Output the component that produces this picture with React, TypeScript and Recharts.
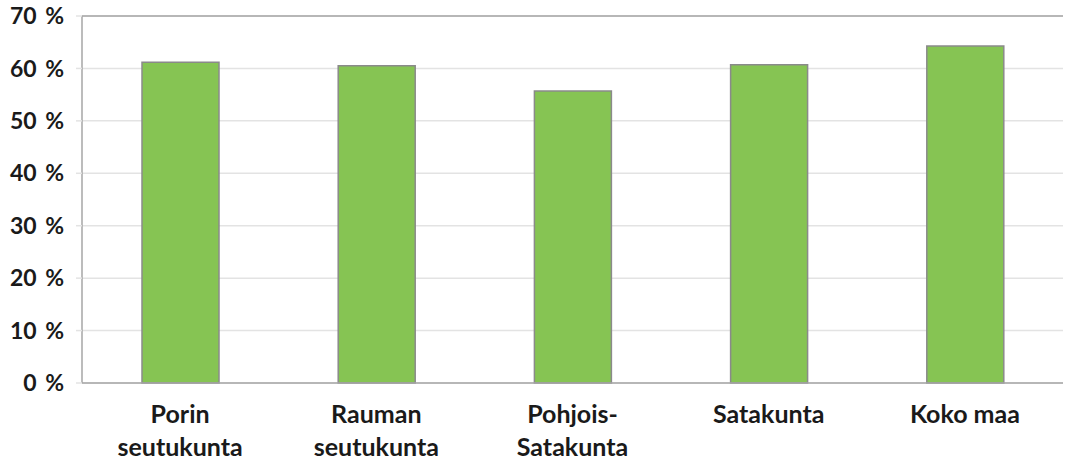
import { BarChart, Bar, XAxis, YAxis, CartesianGrid, ReferenceLine } from 'recharts';

const regions = ['Porin\nseutukunta', 'Rauman\nseutukunta', 'Pohjois-\nSatakunta', 'Satakunta', 'Koko maa'];
const shares = [61.2, 60.5, 55.7, 60.7, 64.3];
const yTicks = [0, 10, 20, 30, 40, 50, 60, 70];

const data = regions.map((name, i) => ({ name, value: shares[i] }));

const FONT = 'Lato, "Open Sans", sans-serif';

function RegionTick(props: any) {
  const { x, y, payload } = props;
  const lines = String(payload.value).split('\n');
  return (
    <text x={x} y={y} textAnchor="middle" fill="#1a1a1a" fontFamily={FONT} fontWeight={700} fontSize={25}>
      {lines.map((l, i) => (
        <tspan key={i} x={x} dy={i === 0 ? 32 : 33}>{l}</tspan>
      ))}
    </text>
  );
}

export default function App() {
  return (
    <div style={{ position: 'absolute', left: 0, top: 0, background: '#fff' }}>
      <BarChart
        width={1066}
        height={462}
        data={data}
        margin={{ top: 16, right: 3, bottom: 0, left: 0 }}
      >
        <CartesianGrid vertical={false} stroke="#e3e3e3" strokeWidth={1.5} />
        <YAxis
          domain={[0, 70]}
          ticks={yTicks}
          width={82}
          tickFormatter={(v: number) => `${v} %`}
          axisLine={{ stroke: '#a6a6a6', strokeWidth: 1.5 }}
          tickLine={{ stroke: '#e3e3e3', strokeWidth: 1.5 }}
          tickSize={6}
          tickMargin={12}
          tick={{ fill: '#1a1a1a', fontFamily: FONT, fontWeight: 700, fontSize: 23, wordSpacing: 3 }}
        />
        <YAxis
          yAxisId="right"
          orientation="right"
          width={0}
          domain={[0, 70]}
          axisLine={{ stroke: '#a6a6a6', strokeWidth: 1.5 }}
          tick={false}
          tickLine={false}
        />
        <XAxis
          dataKey="name"
          height={79}
          axisLine={{ stroke: '#a6a6a6', strokeWidth: 1.5 }}
          tickLine={false}
          interval={0}
          tick={<RegionTick />}
        />
        <ReferenceLine y={70} stroke="#a6a6a6" strokeWidth={1.5} />
        <Bar
          dataKey="value"
          fill="#86c453"
          stroke="#8a8a8a"
          strokeWidth={1.5}
          barSize={77}
          isAnimationActive={false}
        />
      </BarChart>
    </div>
  );
}
